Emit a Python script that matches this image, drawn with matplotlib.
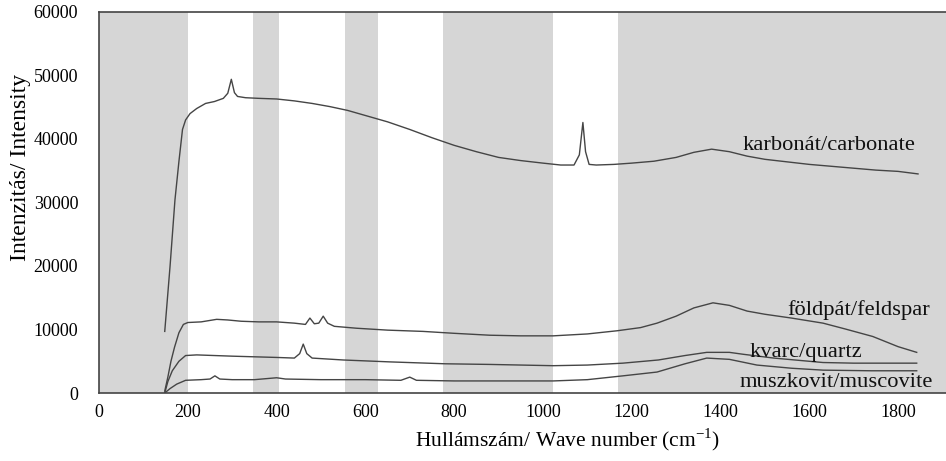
import matplotlib
matplotlib.use("Agg")
import matplotlib.pyplot as plt

plt.rcParams['font.family'] = ['Liberation Serif', 'DejaVu Serif']
plt.rcParams['mathtext.fontset'] = 'custom'
plt.rcParams['mathtext.rm'] = 'Liberation Serif'

# white bands (wave number ranges), rest of the plot area is grey
band_start = [200, 406, 629, 1023]
band_end = [347, 554, 775, 1169]

# karbonát / carbonate
carb_x = [148, 160, 171, 180, 188, 195, 205, 220, 240, 260, 280, 290, 298, 305, 312,
          330, 360, 400, 440, 480, 520, 560, 600, 650, 700, 750, 800, 850, 900, 950,
          1000, 1040, 1070, 1082, 1090, 1096, 1104, 1120, 1160, 1200, 1250, 1300,
          1340, 1380, 1420, 1460, 1500, 1550, 1600, 1650, 1700, 1750, 1800, 1845]
carb_y = [9700, 20000, 30400, 36500, 41500, 43000, 44000, 44800, 45600, 45900, 46400,
          47200, 49400, 47300, 46700, 46500, 46400, 46300, 46000, 45600, 45100, 44500,
          43700, 42700, 41500, 40200, 39000, 38000, 37100, 36600, 36200, 35900, 35900,
          37500, 42600, 38000, 36000, 35900, 36000, 36200, 36500, 37100, 37900, 38400,
          38000, 37300, 36800, 36400, 36000, 35700, 35400, 35100, 34900, 34500]

# földpát / feldspar
feld_x = [148, 155, 162, 170, 180, 190, 200, 230, 265, 290, 320, 360, 400, 440, 465,
          475, 485, 495, 505, 515, 530, 580, 650, 730, 800, 880, 950, 1023, 1100, 1167,
          1220, 1257, 1300, 1340, 1383, 1420, 1460, 1500, 1560, 1631, 1680, 1743, 1800,
          1842]
feld_y = [300, 2500, 5000, 7200, 9500, 10800, 11100, 11200, 11600, 11500, 11300, 11200,
          11200, 11000, 10800, 11800, 10900, 11000, 12100, 11000, 10500, 10200, 9900,
          9700, 9400, 9100, 9000, 9000, 9300, 9800, 10300, 11000, 12100, 13400, 14200,
          13800, 12900, 12400, 11800, 11000, 10100, 8900, 7300, 6400]

# kvarc / quartz
qtz_x = [148, 155, 165, 180, 195, 220, 300, 400, 440, 452, 460, 468, 480, 550, 655,
         780, 880, 1023, 1100, 1180, 1260, 1320, 1369, 1420, 1451, 1520, 1631, 1700,
         1842]
qtz_y = [0, 1800, 3500, 5000, 5900, 6000, 5800, 5600, 5500, 6200, 7700, 6200, 5500,
         5200, 4900, 4600, 4500, 4300, 4400, 4700, 5200, 5900, 6400, 6400, 6100, 5500,
         4800, 4700, 4700]

# muszkovit / muscovite
musc_x = [148, 160, 175, 195, 230, 250, 261, 272, 300, 350, 400, 420, 500, 600, 680,
          700, 715, 800, 880, 1023, 1100, 1180, 1257, 1320, 1369, 1420, 1482, 1560,
          1631, 1740, 1842]
musc_y = [0, 700, 1400, 2000, 2100, 2200, 2700, 2200, 2100, 2100, 2400, 2200, 2100,
          2100, 2000, 2500, 2000, 1900, 1900, 1900, 2100, 2700, 3300, 4600, 5500, 5300,
          4400, 3900, 3600, 3500, 3500]

labels = ['karbonát/carbonate', 'földpát/feldspar', 'kvarc/quartz', 'muszkovit/muscovite']
label_x = [1450, 1550, 1466, 1444]
label_y = [38900, 13100, 6300, 1600]

fig = plt.figure(figsize=(9.46, 4.61), dpi=100)
ax = fig.add_axes([0.1047, 0.1475, 0.8953, 0.8265])
ax.set_facecolor('#d6d6d6')
for s, e in zip(band_start, band_end):
    ax.axvspan(s, e, color='white', lw=0, zorder=0)

for xs, ys in [(carb_x, carb_y), (feld_x, feld_y), (qtz_x, qtz_y), (musc_x, musc_y)]:
    ax.plot(xs, ys, color='#454545', lw=1.0, zorder=2)

for t, lx, ly in zip(labels, label_x, label_y):
    ax.text(lx, ly, t, fontsize=16.2, ha='left', va='center', color='#111111', zorder=3)

ax.set_xlim(0, 1908)
ax.set_ylim(0, 60000)
ax.set_xticks(range(0, 1801, 200))
ax.set_yticks(range(0, 60001, 10000))
ax.tick_params(axis='both', length=0, labelsize=13)
ax.tick_params(axis='x', pad=8)
ax.tick_params(axis='y', pad=15)
for sp in ['left', 'bottom', 'top']:
    ax.spines[sp].set_color('#444444')
    ax.spines[sp].set_linewidth(1.2)
ax.spines['right'].set_visible(False)

ax.set_xlabel('Hullámszám/ Wave number (cm$^{-1}$)', fontsize=15.5, va='center')
ax.xaxis.set_label_coords(0.553, -0.123)
ax.set_ylabel('Intenzitás/ Intensity', fontsize=17, va='center')
ax.yaxis.set_label_coords(-0.093, 0.593)

fig.savefig('out.png', dpi=100)
